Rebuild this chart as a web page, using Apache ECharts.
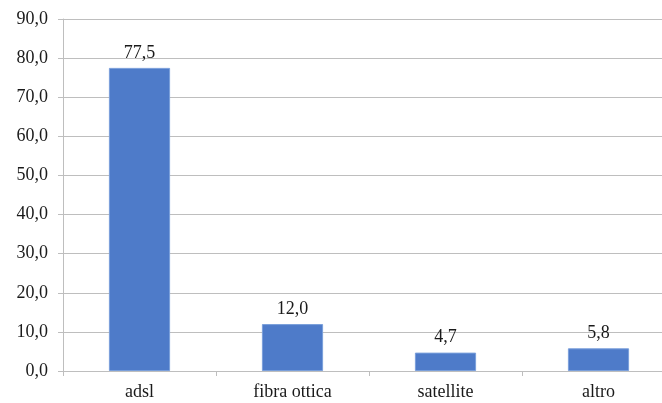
<!DOCTYPE html>
<html>
<head>
<meta charset="utf-8">
<script src="https://cdn.jsdelivr.net/npm/echarts@6/dist/echarts.min.js"></script>
<style>
html,body{margin:0;padding:0;background:#fff;}
#chart{width:662px;height:403px;}
</style>
</head>
<body>
<div id="chart"></div>
<script>
// Connection types and their share (%)
const categories = ['adsl', 'fibra ottica', 'satellite', 'altro'];
const values = [77.5, 12.0, 4.7, 5.8];
const yMin = 0, yMax = 90, yStep = 10;

const fmt = v => v.toFixed(1).replace('.', ',');
const font = 'Liberation Serif, Times New Roman, serif';
const gray = '#BEBEBE';

const chart = echarts.init(document.getElementById('chart'));
chart.setOption({
  animation: false,
  grid: { left: 63, right: -13, top: 19, bottom: 32, outerBoundsMode: 'none', containLabel: false },
  xAxis: {
    type: 'category',
    data: categories,
    axisLine: { lineStyle: { color: gray, width: 1 } },
    axisTick: { show: true, length: 5, lineStyle: { color: gray } },
    axisLabel: { color: '#1a1a1a', fontFamily: font, fontSize: 18, margin: 12 }
  },
  yAxis: {
    type: 'value',
    min: yMin, max: yMax, interval: yStep,
    axisLine: { show: true, lineStyle: { color: gray, width: 1 } },
    axisTick: { show: true, length: 5, lineStyle: { color: gray } },
    splitLine: { lineStyle: { color: gray, width: 1 } },
    axisLabel: { color: '#1a1a1a', fontFamily: font, fontSize: 18, margin: 15, formatter: fmt }
  },
  series: [{
    type: 'bar',
    data: values,
    barWidth: '40%',
    itemStyle: { color: '#4E7BC9', borderColor: '#7A9FDB', borderWidth: 1 },
    label: {
      show: true, position: 'top', distance: 6,
      color: '#1a1a1a', fontFamily: font, fontSize: 18,
      formatter: p => fmt(p.value)
    }
  }]
});
</script>
</body>
</html>
